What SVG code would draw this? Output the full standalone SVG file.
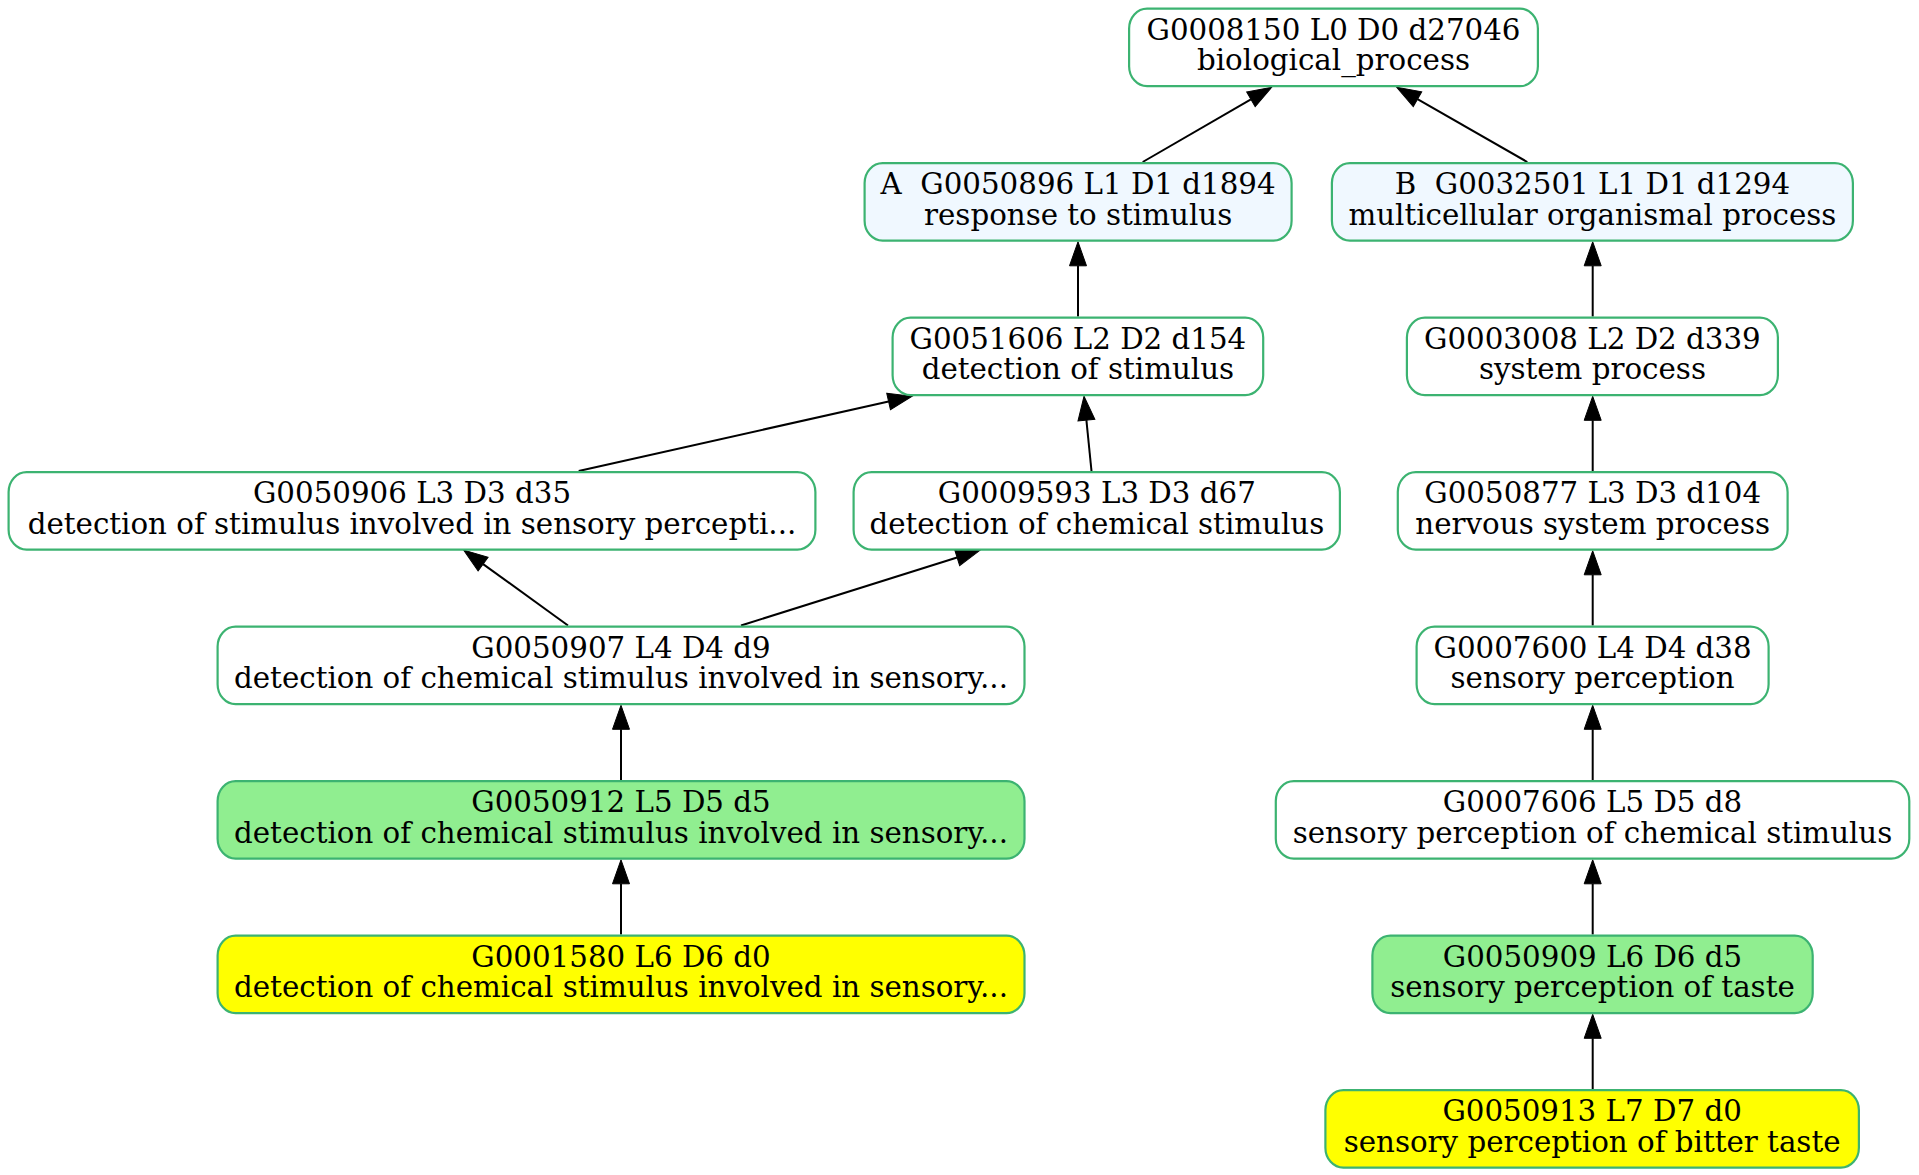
<svg xmlns="http://www.w3.org/2000/svg" width="1919" height="1175" viewBox="0 0 1919 1175">
<style>
.n rect{stroke:#3cb371;stroke-width:2.2}
.w{fill:#ffffff}.a{fill:#f0f8ff}.g{fill:#90ee90}.y{fill:#ffff00}
text{font-family:"DejaVu Serif","Liberation Serif",serif;font-size:29.3px;fill:#000;text-anchor:middle;white-space:pre}
.e line{stroke:#000;stroke-width:2}
</style>
<defs>
<marker id="ah" markerUnits="userSpaceOnUse" markerWidth="26" markerHeight="20" refX="0" refY="8.5" orient="auto" viewBox="0 0 26 20" overflow="visible">
<path d="M0,0 L24,8.5 L0,17 z" fill="#000" stroke="#000" stroke-width="1"/>
</marker>
</defs>
<rect width="1919" height="1175" fill="#ffffff"/>
<g id="edges" class="e">
<line x1="1142.7" y1="162" x2="1250.9" y2="99.3" marker-end="url(#ah)"/>
<line x1="1527.3" y1="162" x2="1417.5" y2="99.2" marker-end="url(#ah)"/>
<line x1="1078" y1="316.5" x2="1078" y2="265.8" marker-end="url(#ah)"/>
<line x1="1592.7" y1="316.5" x2="1592.7" y2="265.8" marker-end="url(#ah)"/>
<line x1="578.7" y1="471" x2="888.6" y2="401.5" marker-end="url(#ah)"/>
<line x1="1091.5" y1="471" x2="1086.4" y2="420.2" marker-end="url(#ah)"/>
<line x1="1592.7" y1="471" x2="1592.7" y2="420.3" marker-end="url(#ah)"/>
<line x1="568" y1="625.5" x2="483.1" y2="564.1" marker-end="url(#ah)"/>
<line x1="741" y1="625.5" x2="957.1" y2="557.5" marker-end="url(#ah)"/>
<line x1="1592.7" y1="625.5" x2="1592.7" y2="574.8" marker-end="url(#ah)"/>
<line x1="621" y1="780" x2="621" y2="729.3" marker-end="url(#ah)"/>
<line x1="1592.7" y1="780" x2="1592.7" y2="729.3" marker-end="url(#ah)"/>
<line x1="621" y1="934.5" x2="621" y2="883.8" marker-end="url(#ah)"/>
<line x1="1592.7" y1="934.5" x2="1592.7" y2="883.8" marker-end="url(#ah)"/>
<line x1="1592.7" y1="1089" x2="1592.7" y2="1038.3" marker-end="url(#ah)"/>
</g>
<g id="G0008150" class="n">
<rect class="w" x="1129.1" y="8.6" width="408.8" height="77.6" rx="18" ry="20"/>
<text x="1333.5" y="39.5">G0008150 L0 D0 d27046</text><text x="1333.5" y="70">biological_process</text>
</g>
<g id="G0050896" class="n">
<rect class="a" x="864.6" y="163.1" width="427" height="77.6" rx="18" ry="20"/>
<text x="1078.1" y="194">A  G0050896 L1 D1 d1894</text><text x="1078.1" y="224.5">response to stimulus</text>
</g>
<g id="G0032501" class="n">
<rect class="a" x="1331.9" y="163.1" width="521" height="77.6" rx="18" ry="20"/>
<text x="1592.4" y="194">B  G0032501 L1 D1 d1294</text><text x="1592.4" y="224.5">multicellular organismal process</text>
</g>
<g id="G0051606" class="n">
<rect class="w" x="892.6" y="317.6" width="370.6" height="77.6" rx="18" ry="20"/>
<text x="1077.9" y="348.5">G0051606 L2 D2 d154</text><text x="1077.9" y="379">detection of stimulus</text>
</g>
<g id="G0003008" class="n">
<rect class="w" x="1406.9" y="317.6" width="371" height="77.6" rx="18" ry="20"/>
<text x="1592.4" y="348.5">G0003008 L2 D2 d339</text><text x="1592.4" y="379">system process</text>
</g>
<g id="G0050906" class="n">
<rect class="w" x="8.6" y="472.1" width="806.8" height="77.6" rx="18" ry="20"/>
<text x="412" y="503">G0050906 L3 D3 d35</text><text x="412" y="533.5">detection of stimulus involved in sensory percepti...</text>
</g>
<g id="G0009593" class="n">
<rect class="w" x="853.6" y="472.1" width="486.3" height="77.6" rx="18" ry="20"/>
<text x="1096.8" y="503">G0009593 L3 D3 d67</text><text x="1096.8" y="533.5">detection of chemical stimulus</text>
</g>
<g id="G0050877" class="n">
<rect class="w" x="1397.8" y="472.1" width="389.8" height="77.6" rx="18" ry="20"/>
<text x="1592.7" y="503">G0050877 L3 D3 d104</text><text x="1592.7" y="533.5">nervous system process</text>
</g>
<g id="G0050907" class="n">
<rect class="w" x="217.6" y="626.6" width="806.9" height="77.6" rx="18" ry="20"/>
<text x="621" y="657.5">G0050907 L4 D4 d9</text><text x="621" y="688">detection of chemical stimulus involved in sensory...</text>
</g>
<g id="G0007600" class="n">
<rect class="w" x="1416.6" y="626.6" width="352" height="77.6" rx="18" ry="20"/>
<text x="1592.6" y="657.5">G0007600 L4 D4 d38</text><text x="1592.6" y="688">sensory perception</text>
</g>
<g id="G0050912" class="n">
<rect class="g" x="217.6" y="781.1" width="806.9" height="77.6" rx="18" ry="20"/>
<text x="621" y="812">G0050912 L5 D5 d5</text><text x="621" y="842.5">detection of chemical stimulus involved in sensory...</text>
</g>
<g id="G0007606" class="n">
<rect class="w" x="1275.8" y="781.1" width="633.5" height="77.6" rx="18" ry="20"/>
<text x="1592.5" y="812">G0007606 L5 D5 d8</text><text x="1592.5" y="842.5">sensory perception of chemical stimulus</text>
</g>
<g id="G0001580" class="n">
<rect class="y" x="217.6" y="935.6" width="806.9" height="77.6" rx="18" ry="20"/>
<text x="621" y="966.5">G0001580 L6 D6 d0</text><text x="621" y="997">detection of chemical stimulus involved in sensory...</text>
</g>
<g id="G0050909" class="n">
<rect class="g" x="1372.4" y="935.6" width="440.3" height="77.6" rx="18" ry="20"/>
<text x="1592.5" y="966.5">G0050909 L6 D6 d5</text><text x="1592.5" y="997">sensory perception of taste</text>
</g>
<g id="G0050913" class="n">
<rect class="y" x="1325.4" y="1090.1" width="533.5" height="77.6" rx="18" ry="20"/>
<text x="1592.1" y="1121">G0050913 L7 D7 d0</text><text x="1592.1" y="1151.5">sensory perception of bitter taste</text>
</g>
</svg>
